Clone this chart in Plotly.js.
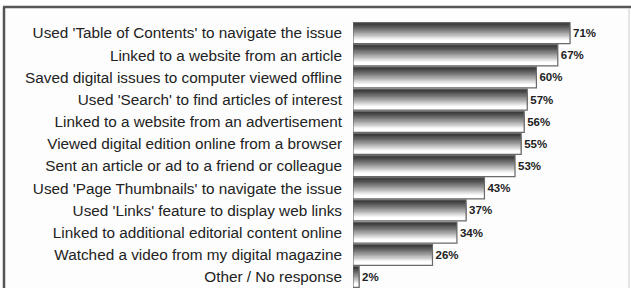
<!DOCTYPE html>
<html>
<head>
<meta charset="utf-8">
<script src="https://cdn.plot.ly/plotly-3.0.1.min.js"></script>
<style>
html,body{margin:0;padding:0;background:#fdfdfd;}
#chart{width:631px;height:288px;}
</style>
</head>
<body>
<div id="chart"></div>
<script>
var categories = [
  "Used 'Table of Contents' to navigate the issue",
  "Linked to a website from an article",
  "Saved digital issues to computer viewed offline",
  "Used 'Search' to find articles of interest",
  "Linked to a website from an advertisement",
  "Viewed digital edition online from a browser",
  "Sent an article or ad to a friend or colleague",
  "Used 'Page Thumbnails' to navigate the issue",
  "Used 'Links' feature to display web links",
  "Linked to additional editorial content online",
  "Watched a video from my digital magazine",
  "Other / No response"
];
var values = [71, 67, 60, 57, 56, 55, 53, 43, 37, 34, 26, 2];

var BW = 0.95, N = 16;
var traces = [];
for (var k = 0; k < N; k++) {
  var t = k / (N - 1);
  var g = Math.round(55 + 200 * Math.min(1, Math.pow(t / 0.85, 1.15)));
  traces.push({
    type: 'bar', orientation: 'h',
    x: values, y: categories,
    offset: -BW / 2 + k * BW / N,
    width: BW - k * BW / N,
    marker: {color: 'rgb(' + g + ',' + g + ',' + g + ')', line: {width: 0}},
    hoverinfo: 'skip', showlegend: false
  });
}
traces.push({
  type: 'bar', orientation: 'h',
  x: values, y: categories,
  offset: -BW / 2, width: BW,
  marker: {color: 'rgba(0,0,0,0)', line: {color: '#6a6a6a', width: 1.2}},
  text: values.map(function (v) { return v + '%'; }),
  textposition: 'outside', cliponaxis: false,
  textfont: {family: 'Liberation Sans, Arial, sans-serif', size: 11.5, color: '#222', weight: 'bold'},
  showlegend: false
});

var W = 269, H = 266, L = 353, T = 22;
function px(p) { return (p - L) / W; }
function py(p) { return 1 - (p - T) / H; }

var layout = {
  width: 631, height: 288,
  margin: {l: L, r: 631 - L - W, t: T, b: 288 - T - H, pad: 0},
  paper_bgcolor: '#fdfdfd', plot_bgcolor: 'rgba(0,0,0,0)',
  barmode: 'overlay',
  font: {family: 'Liberation Sans, Arial, sans-serif', color: '#222'},
  xaxis: {range: [0, 88], showgrid: false, zeroline: false, showticklabels: false, ticks: '', showline: false, fixedrange: true},
  yaxis: {autorange: 'reversed', showgrid: false, zeroline: false, ticks: '', showline: false,
          tickfont: {size: 15.3, color: '#222'}, ticklabelstandoff: 10, automargin: false, fixedrange: true},
  shapes: [
    {type: 'line', xref: 'paper', yref: 'paper', x0: px(4), x1: px(4), y0: py(7), y1: py(300), line: {color: '#555', width: 2.5}},
    {type: 'line', xref: 'paper', yref: 'paper', x0: px(3), x1: px(640), y0: py(7), y1: py(7), line: {color: '#555', width: 2.5}},
    {type: 'line', xref: 'paper', yref: 'paper', x0: px(629), x1: px(629), y0: py(8), y1: py(300), line: {color: '#cfcfcf', width: 1}}
  ]
};

Plotly.newPlot('chart', traces, layout, {displayModeBar: false, staticPlot: true});
</script>
</body>
</html>
